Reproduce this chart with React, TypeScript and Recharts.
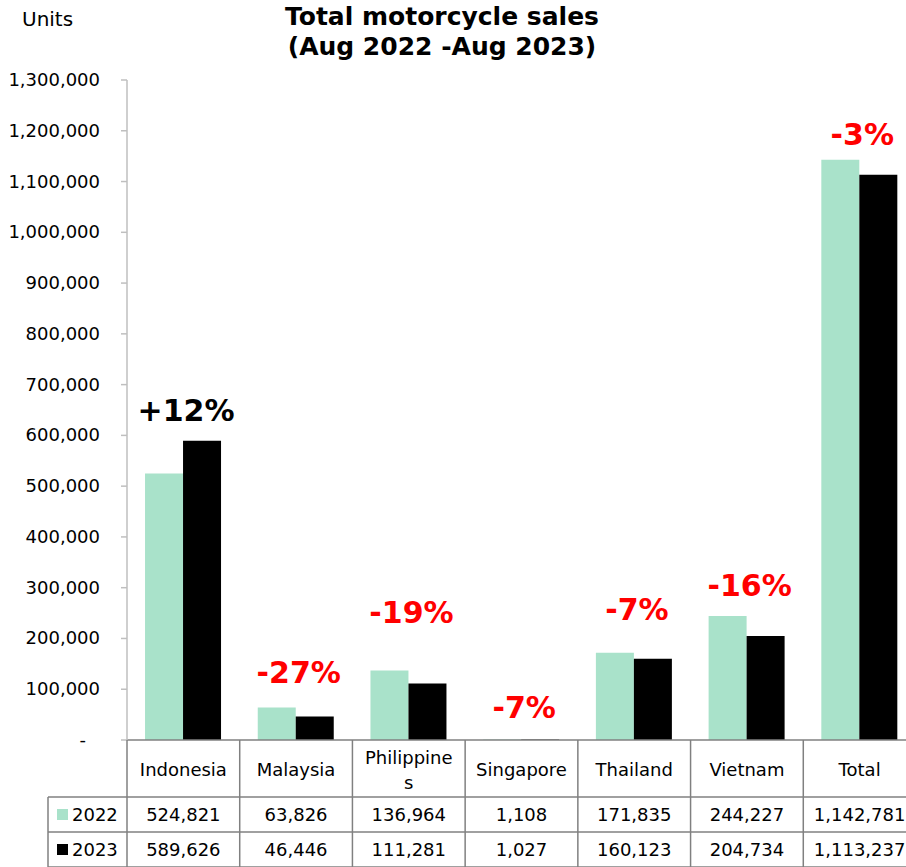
import React from "react";
import { BarChart, Bar, XAxis, YAxis, LabelList } from "recharts";

const COUNTRIES = ["Indonesia", "Malaysia", "Philippines", "Singapore", "Thailand", "Vietnam", "Total"];
const SALES_2022 = [524821, 63826, 136964, 1108, 171835, 244227, 1142781];
const SALES_2023 = [589626, 46446, 111281, 1027, 160123, 204734, 1113237];
const YEARS = ["2022", "2023"];
const Y_TICKS = [
  0, 100000, 200000, 300000, 400000, 500000, 600000, 700000, 800000, 900000, 1000000, 1100000, 1200000,
  1300000,
];

// how far (px) each change label sits above the taller bar, as in the original layout
const LABEL_LIFT = [20, 25, 47, 21, 33, 20, 15];

const FONT = "'DejaVu Sans', Tahoma, sans-serif";
const MINT = "#a9e2ca";
const GRID = "#808080";

const CHART_W = 920;
const CHART_H = 867;
const Y_AXIS_W = 127;
const X_AXIS_H = 127;
const MARGIN = { top: 80, right: 4, left: 0, bottom: 0 };
const CELL_W = (CHART_W - Y_AXIS_W - MARGIN.left - MARGIN.right) / COUNTRIES.length;

const HEAD_H = 57;
const ROW_H = 35;

const data = COUNTRIES.map((name, i) => ({ name, y2022: SALES_2022[i], y2023: SALES_2023[i] }));
const rows = [SALES_2022, SALES_2023];
const rowColors = [MINT, "#000000"];

function fmt(v: number) {
  return v.toLocaleString("en-US");
}

function YTick(props: any) {
  const { x, y, payload } = props;
  const v = payload.value;
  return (
    <text x={v === 0 ? x - 14 : x} y={y} dy={6} textAnchor="end" fontSize={18} fontFamily={FONT} fill="#000">
      {v === 0 ? "-" : fmt(v)}
    </text>
  );
}

function TableTick(props: any) {
  const { x, y, payload } = props;
  const i = payload.index ?? COUNTRIES.indexOf(payload.value);
  const left = x - CELL_W / 2;
  const right = x + CELL_W / 2;
  const name = String(payload.value);
  const lines = name.length > 10 ? [name.slice(0, 10), name.slice(10)] : [name];
  const bottom = y + HEAD_H + ROW_H * 2;
  return (
    <g>
      {i === 0 && (
        <g>
          <line x1={left} y1={y} x2={left} y2={bottom} stroke={GRID} strokeWidth={1.5} />
          <line x1={48} y1={y + HEAD_H} x2={48} y2={bottom} stroke={GRID} strokeWidth={1.5} />
          <line x1={48} y1={y + HEAD_H} x2={left} y2={y + HEAD_H} stroke={GRID} strokeWidth={1.5} />
          {rows.map((_, r) => (
            <g key={r}>
              <line
                x1={48}
                y1={y + HEAD_H + ROW_H * (r + 1)}
                x2={left}
                y2={y + HEAD_H + ROW_H * (r + 1)}
                stroke={GRID}
                strokeWidth={1.5}
              />
              <rect x={57} y={y + HEAD_H + ROW_H * r + 12} width={11} height={11} fill={rowColors[r]} />
              <text x={72} y={y + HEAD_H + ROW_H * r + 24} fontSize={18} fontFamily={FONT} fill="#000">
                {YEARS[r]}
              </text>
            </g>
          ))}
        </g>
      )}
      <line x1={right} y1={y} x2={right} y2={bottom} stroke={GRID} strokeWidth={1.5} />
      {[HEAD_H, HEAD_H + ROW_H, HEAD_H + ROW_H * 2].map((dy) => (
        <line key={dy} x1={left} y1={y + dy} x2={right} y2={y + dy} stroke={GRID} strokeWidth={1.5} />
      ))}
      {lines.map((ln, k) => (
        <text
          key={k}
          x={x}
          y={lines.length === 1 ? y + 36 : y + 24 + k * 25}
          textAnchor="middle"
          fontSize={18}
          fontFamily={FONT}
          fill="#000"
        >
          {ln}
        </text>
      ))}
      {rows.map((vals, r) => (
        <text
          key={r}
          x={x}
          y={y + HEAD_H + ROW_H * r + 24}
          textAnchor="middle"
          fontSize={18}
          fontFamily={FONT}
          fill="#000"
        >
          {fmt(vals[i])}
        </text>
      ))}
    </g>
  );
}

function ChangeLabel(props: any) {
  const { x, y, width, height, index } = props;
  const a = SALES_2022[index];
  const b = SALES_2023[index];
  const h = Number(height);
  const base = Number(y) + h;
  const top = base - (Math.max(a, b) / a) * h;
  const pct = Math.round(((b - a) / a) * 100);
  const txt = (pct > 0 ? "+" : "") + pct + "%";
  return (
    <text
      x={Number(x) + Number(width) + 3}
      y={top - LABEL_LIFT[index]}
      textAnchor="middle"
      fontSize={30}
      fontWeight="bold"
      fontFamily={FONT}
      fill={pct > 0 ? "#000000" : "#ff0000"}
    >
      {txt}
    </text>
  );
}

export default function App() {
  return (
    <div
      style={{
        position: "fixed",
        left: 0,
        top: 0,
        width: 906,
        height: 867,
        overflow: "hidden",
        background: "#fff",
      }}
    >
      <BarChart
        width={CHART_W}
        height={CHART_H}
        data={data}
        margin={MARGIN}
        barCategoryGap="16%"
        barGap={0}
      >
        <XAxis
          dataKey="name"
          height={X_AXIS_H}
          axisLine={{ stroke: GRID, strokeWidth: 1.5 }}
          tickLine={false}
          tickSize={0}
          tickMargin={0}
          interval={0}
          tick={<TableTick />}
        />
        <YAxis
          width={Y_AXIS_W}
          domain={[0, 1300000]}
          ticks={Y_TICKS}
          interval={0}
          axisLine={{ stroke: "#bfbfbf", strokeWidth: 1.5 }}
          tickLine={{ stroke: "#bfbfbf", strokeWidth: 1.5 }}
          tickSize={6}
          tickMargin={21}
          tick={<YTick />}
        />
        <Bar dataKey="y2022" fill={MINT} isAnimationActive={false}>
          <LabelList dataKey="y2022" content={<ChangeLabel />} />
        </Bar>
        <Bar dataKey="y2023" fill="#000000" isAnimationActive={false} />
      </BarChart>
      <svg
        width={906}
        height={867}
        style={{ position: "absolute", left: 0, top: 0, pointerEvents: "none" }}
      >
        <text x={22} y={26} fontSize={20} fontFamily={FONT} fill="#000">
          Units
        </text>
        <text x={442} y={25} textAnchor="middle" fontSize={25} fontWeight="bold" fontFamily={FONT} fill="#000">
          Total motorcycle sales
        </text>
        <text x={442} y={55} textAnchor="middle" fontSize={25} fontWeight="bold" fontFamily={FONT} fill="#000">
          (Aug 2022 -Aug 2023)
        </text>
      </svg>
    </div>
  );
}
